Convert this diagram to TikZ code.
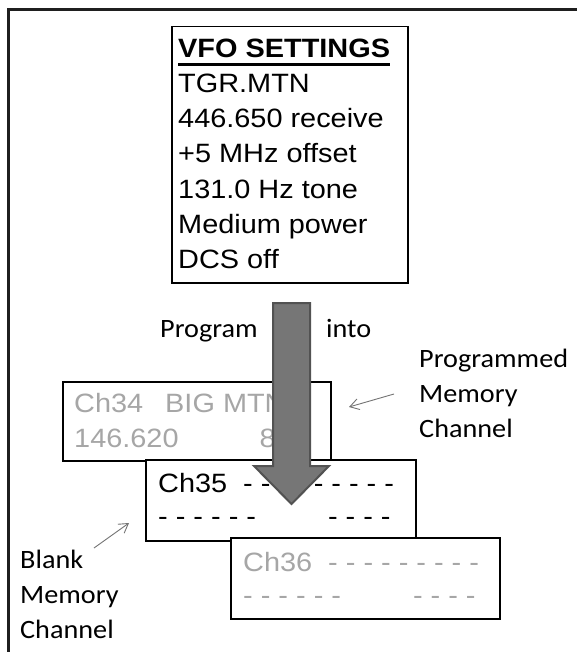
\documentclass[tikz,border=0pt]{standalone}
\usepackage{fontspec}
\setmainfont{Liberation Sans}[FakeStretch=1.09]
\newfontfamily\labelfont{Carlito}[FakeStretch=1.065]
\usetikzlibrary{arrows.meta}
\definecolor{chgray}{RGB}{166,166,166}
\definecolor{arrowfill}{RGB}{118,118,118}
\definecolor{arrowline}{RGB}{82,82,82}
\definecolor{pointer}{RGB}{115,115,115}
% thick underline for the heading
\newcommand\headline[1]{\setbox0\hbox{#1}\rlap{\rule[-8.7pt]{\wd0}{3pt}}\box0}

\begin{document}
\begin{tikzpicture}[x=1pt, y=-1pt,
		chbox/.style={draw, line width=1.5pt, fill=white, anchor=north west, inner sep=0pt},
		chtext/.style={anchor=north west, inner sep=0pt, align=left, font=\fontsize{26.5}{33}\selectfont},
		labeltext/.style={inner sep=0pt, align=left, font=\labelfont\fontsize{26.5}{35}\selectfont},
		bigarrow/.style={fill=arrowfill, draw=arrowline, line width=2pt, line join=miter}]
		\useasboundingbox (0,0) rectangle (577,652);
		\draw[line width=3pt, black!88] (577,10) -| (8.7,652);

		% settings box
		\node (vfo)[chbox, minimum width=236pt, minimum height=256pt] at (171,26) {};
		\node (vfotext)[chtext, font=\fontsize{26.5}{35.2}\selectfont] at (178,38.6) {\headline{\textbf{VFO SETTINGS}}\\TGR.MTN\\446.650 receive\\+5 MHz offset\\131.0 Hz tone\\Medium power\\DCS off};

		% memory channels
		\node (ch34)[chbox, minimum width=268pt, minimum height=79pt] at (62,381) {};
		\node (ch34text)[chtext, text=chgray, font=\fontsize{26.5}{35.5}\selectfont] at (74,392.7) {Ch34\hspace{22pt}BIG MTN\\146.620\hspace{81pt}869};
		\node (ch35)[chbox, minimum width=270pt, minimum height=81pt] at (145,459) {};
		\node (ch35text)[chtext] at (158,472.7) {Ch35\hspace{16pt}- - - - - - - - -\\- - - - - -\hspace{72pt}- - - -};
		\node (ch36)[chbox, minimum width=269pt, minimum height=81pt] at (230,537) {};
		\node (ch36text)[chtext, text=chgray] at (243,551.7) {Ch36\hspace{16pt}- - - - - - - - -\\- - - - - -\hspace{72pt}- - - -};

		% labels
		\node (program)[labeltext, anchor=base west] at (160,337) {Program};
		\node (into)[labeltext, anchor=base west] at (326,337) {into};
		\node (programmed)[labeltext, anchor=north west] at (419,348.4) {Programmed\\Memory\\Channel};
		\node (blank)[labeltext, anchor=north west] at (20,549.4) {Blank\\Memory\\Channel};

		\coordinate (programmedtail) at (394,394);
		\coordinate (programmedtip) at (349,407);
		\coordinate (blanktail) at (94,548);
		\coordinate (blanktip) at (129,523);
		\begin{scope}[every edge/.style={draw=pointer, line width=0.9pt, -{Straight Barb[length=9pt, width=11pt]}}]
			\path (programmedtail) edge (programmedtip);
			\path (blanktail) edge (blanktip);
		\end{scope}

		% program arrow
		\filldraw[bigarrow] (273,303) -- (310,303) -- (310,466) -- (329,466) -- (291.5,504) -- (254,466) -- (273,466) -- cycle;
	\end{tikzpicture}
\end{document}
